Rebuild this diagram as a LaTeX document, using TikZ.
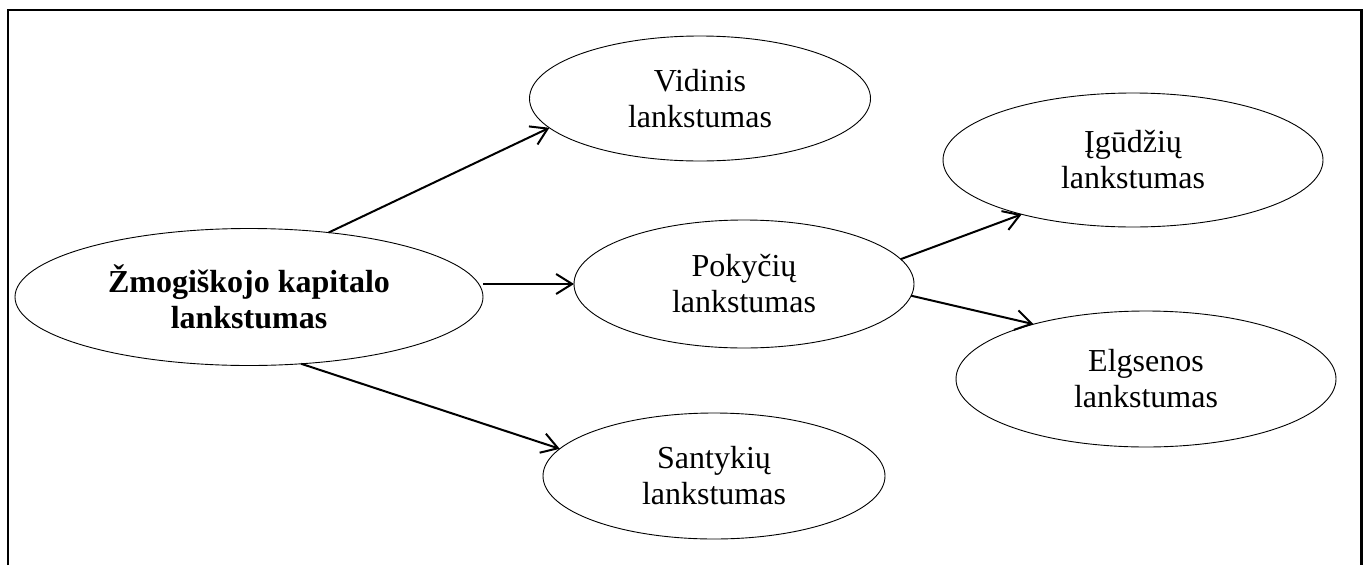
\documentclass[tikz,border=0pt]{standalone}
\usepackage{fontspec}
\setmainfont{Liberation Serif}
\usetikzlibrary{shapes.geometric,arrows.meta}
\begin{document}
\begin{tikzpicture}[x=1pt,y=-1pt,
  oval/.style={ellipse, draw, line width=0.9pt, inner sep=0pt, outer sep=0pt, align=center,
    font=\fontsize{32}{36}\selectfont},
  arr/.style={line width=2pt, -{Straight Barb[length=16pt,width=20pt]}},
  frame/.style={line width=2.2pt}]
\useasboundingbox (0,0) rectangle (1367,565);
\draw[frame] (8.3,565) -- (8.3,10.3) -- (1361.5,10.3) -- (1361.5,565);

\node[oval, minimum width=468pt, minimum height=137pt,
  font=\fontsize{32}{36}\selectfont\bfseries] (main) at (249,297) {Žmogiškojo kapitalo\\lankstumas};
\node[oval, minimum width=341pt, minimum height=125pt] (vid) at (700,98.5) {Vidinis\\lankstumas};
\node[oval, minimum width=340pt, minimum height=128pt] (pok) at (744,284) {Pokyčių\\lankstumas};
\node[oval, minimum width=342pt, minimum height=126pt] (san) at (714,476) {Santykių\\lankstumas};
\node[oval, minimum width=380pt, minimum height=134pt] (igu) at (1133,160) {Įgūdžių\\lankstumas};
\node[oval, minimum width=380pt, minimum height=136pt] (elg) at (1146,379) {Elgsenos\\lankstumas};

\draw[arr] (main.39.6) -- (vid.191.9);
\draw[arr] (main.east |- pok.west) -- (pok.west);
\draw[arr] (main.-52) -- (san.170);
\draw[arr] (pok.9.6) -- (igu.206);
\draw[arr] (pok.-4) -- (elg.154.8);
\end{tikzpicture}
\end{document}
